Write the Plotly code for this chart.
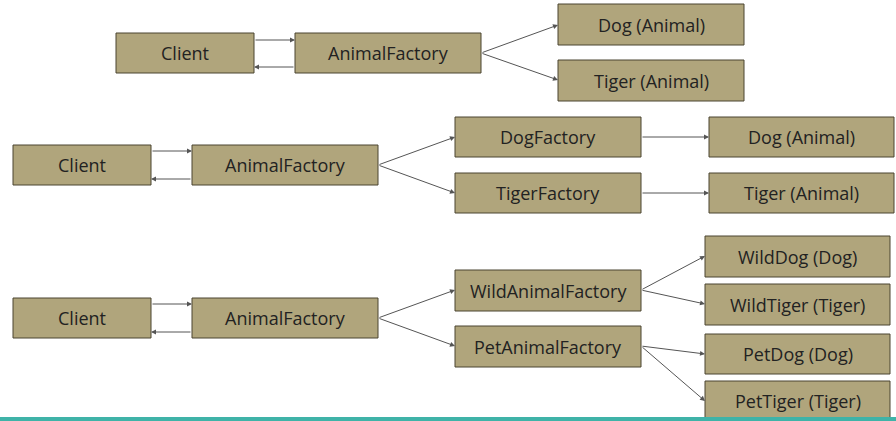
import plotly.graph_objects as go

# Box labels and their pixel boxes (x0, y0, x1, y1) on a 896x421 canvas
labels = ["Client", "AnimalFactory", "Dog (Animal)", "Tiger (Animal)",
          "Client", "AnimalFactory", "DogFactory", "TigerFactory", "Dog (Animal)", "Tiger (Animal)",
          "Client", "AnimalFactory", "WildAnimalFactory", "PetAnimalFactory",
          "WildDog (Dog)", "WildTiger (Tiger)", "PetDog (Dog)", "PetTiger (Tiger)"]
boxes = [(116, 33, 254, 73), (295, 33, 481, 73), (558, 4, 744, 45), (558, 60, 744, 101),
         (13, 145, 151, 185), (192, 145, 378, 185), (455, 117, 641, 157), (455, 173, 641, 213),
         (709, 117, 894, 157), (709, 173, 894, 213),
         (13, 298, 151, 338), (192, 298, 378, 338), (455, 270, 641, 311), (455, 326, 641, 367),
         (705, 236, 890, 277), (705, 284, 890, 325), (705, 334, 890, 374), (705, 381, 890, 421)]
# arrows: (from x, from y, to x, to y)
arrows = [(254, 40, 295, 40), (295, 67, 254, 67), (481, 53, 558, 25), (481, 53, 558, 80),
          (151, 151, 192, 151), (192, 179, 151, 179), (378, 165, 455, 137), (378, 165, 455, 193),
          (641, 137, 709, 137), (641, 193, 709, 193),
          (151, 304, 192, 304), (192, 332, 151, 332), (378, 318, 455, 290), (378, 318, 455, 346),
          (641, 290, 705, 256), (641, 290, 705, 304), (641, 346, 705, 354), (641, 346, 705, 401)]

fig = go.Figure()
shapes = []
annotations = []
for lab, (x0, y0, x1, y1) in zip(labels, boxes):
    shapes.append(dict(type="rect", x0=x0, y0=y0, x1=x1, y1=y1,
                       fillcolor="#b0a57c", line=dict(color="#4a4430", width=1)))
    annotations.append(dict(x=(x0 + x1) / 2, y=(y0 + y1) / 2, text=lab, showarrow=False,
                            font=dict(family="Open Sans", size=18, color="#222")))
for fx, fy, tx, ty in arrows:
    annotations.append(dict(x=tx, y=ty, ax=fx, ay=fy, xref="x", yref="y", axref="x", ayref="y",
                            text="", showarrow=True, arrowhead=2, arrowsize=1, arrowwidth=1,
                            arrowcolor="#555"))
shapes.append(dict(type="line", x0=0, x1=896, y0=419, y1=419, line=dict(color="#3fb3a8", width=4)))

fig.update_layout(width=896, height=421, margin=dict(l=0, r=0, t=0, b=0),
                  plot_bgcolor="white", paper_bgcolor="white",
                  xaxis=dict(range=[0, 896], visible=False),
                  yaxis=dict(range=[421, 0], visible=False),
                  shapes=shapes, annotations=annotations, showlegend=False)
fig.write_html("out.html", config={"displayModeBar": False},
               post_script="document.body.style.margin='0';document.body.style.overflow='hidden';")
